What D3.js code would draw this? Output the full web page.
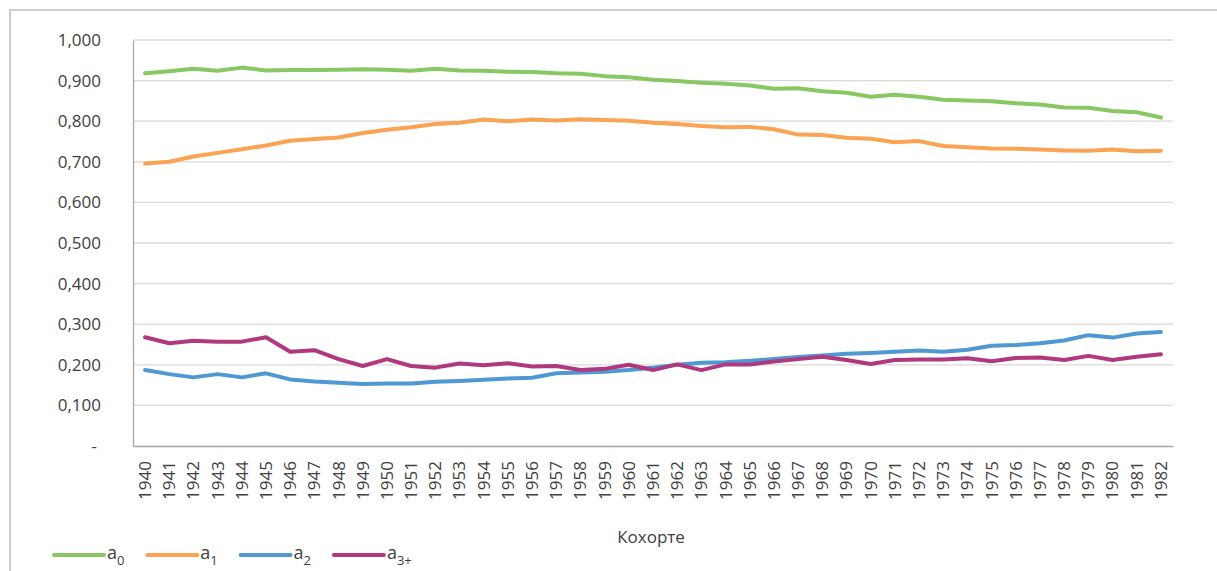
<!DOCTYPE html>
<html>
<head>
<meta charset="utf-8">
<script src="https://cdn.jsdelivr.net/npm/d3@7"></script>
<style>
  html, body { margin: 0; padding: 0; background: #fff; }
  svg text { font-family: "Open Sans", "Noto Sans", sans-serif; fill: #404040; }
</style>
</head>
<body>
<svg id="chart" width="1217" height="571"></svg>
<script>
// Cohort years on the category axis
const years = d3.range(1940, 1983).map(String);

// Share of women by parity, per birth cohort
const a0 = [0.918, 0.923, 0.929, 0.924, 0.932, 0.925, 0.926, 0.926, 0.927, 0.928,
            0.927, 0.924, 0.929, 0.925, 0.924, 0.922, 0.921, 0.918, 0.917, 0.911,
            0.908, 0.902, 0.899, 0.895, 0.892, 0.888, 0.880, 0.881, 0.874, 0.870,
            0.860, 0.865, 0.860, 0.853, 0.851, 0.849, 0.844, 0.841, 0.834, 0.833,
            0.825, 0.822, 0.809];
const a1 = [0.696, 0.700, 0.713, 0.722, 0.731, 0.740, 0.752, 0.756, 0.760, 0.771,
            0.779, 0.785, 0.793, 0.796, 0.804, 0.800, 0.804, 0.802, 0.805, 0.803,
            0.801, 0.796, 0.793, 0.788, 0.785, 0.786, 0.780, 0.767, 0.766, 0.759,
            0.757, 0.748, 0.751, 0.739, 0.736, 0.733, 0.732, 0.730, 0.728, 0.727,
            0.730, 0.726, 0.727];
const a2 = [0.187, 0.177, 0.169, 0.177, 0.169, 0.179, 0.164, 0.159, 0.156, 0.153,
            0.154, 0.154, 0.158, 0.160, 0.163, 0.166, 0.168, 0.179, 0.181, 0.183,
            0.187, 0.193, 0.200, 0.205, 0.206, 0.210, 0.214, 0.219, 0.223, 0.227,
            0.229, 0.232, 0.235, 0.232, 0.237, 0.247, 0.249, 0.253, 0.260, 0.273,
            0.267, 0.277, 0.281];
const a3 = [0.268, 0.253, 0.259, 0.257, 0.257, 0.268, 0.232, 0.236, 0.214, 0.197,
            0.214, 0.197, 0.193, 0.203, 0.199, 0.204, 0.196, 0.197, 0.187, 0.190,
            0.200, 0.187, 0.201, 0.187, 0.201, 0.201, 0.208, 0.214, 0.220, 0.212,
            0.202, 0.212, 0.213, 0.213, 0.216, 0.209, 0.217, 0.218, 0.212, 0.222,
            0.212, 0.220, 0.226];

const yTicks = [0, 0.1, 0.2, 0.3, 0.4, 0.5, 0.6, 0.7, 0.8, 0.9, 1.0];
const xTitle = "Кохорте";

const series = [
  { base: "a", sub: "0",  values: a0, color: "#88c763" },
  { base: "a", sub: "1",  values: a1, color: "#faa352" },
  { base: "a", sub: "2",  values: a2, color: "#4f98d2" },
  { base: "a", sub: "3+", values: a3, color: "#b0387e" }
];

const svg = d3.select("#chart");

// Outer chart frame (top and left edges)
svg.append("path")
  .attr("d", "M10,1000 V10 H1300")
  .attr("fill", "none")
  .attr("stroke", "#bfbfbf")
  .attr("stroke-width", 1.5);

const plot = { left: 133, right: 1173, top: 40, bottom: 446 };

const x = d3.scaleBand().domain(years).range([plot.left, plot.right]).padding(0);
const xc = d => x(d) + x.bandwidth() / 2;
const y = d3.scaleLinear().domain([0, 1]).range([plot.bottom, plot.top]);

// Horizontal gridlines
svg.append("g")
  .selectAll("line")
  .data(yTicks.filter(t => t > 0))
  .join("line")
  .attr("x1", plot.left).attr("x2", plot.right)
  .attr("y1", d => y(d)).attr("y2", d => y(d))
  .attr("stroke", "#d9d9d9")
  .attr("stroke-width", 1.3);

// Y axis labels
const fmt = v => v === 0 ? "-" : d3.format(".3f")(v).replace(".", ",");
const yAxis = svg.append("g")
  .attr("transform", `translate(${plot.left},0)`)
  .call(d3.axisLeft(y).tickValues(yTicks).tickFormat(fmt).tickSize(0).tickPadding(32));
yAxis.select(".domain").attr("stroke", "#a6a6a6").attr("stroke-width", 1.3);
yAxis.selectAll("text").style("font-size", "17px").attr("fill", "#404040")
  .attr("dx", d => d === 0 ? -4 : 0);

// X axis with rotated year labels
const xAxis = svg.append("g")
  .attr("transform", `translate(0,${plot.bottom})`)
  .call(d3.axisBottom(x).tickSize(0).tickPadding(0));
xAxis.select(".domain").attr("stroke", "#a6a6a6").attr("stroke-width", 1.5);
xAxis.selectAll("text")
  .style("font-size", "17px")
  .attr("fill", "#404040")
  .attr("text-anchor", "end")
  .attr("transform", "rotate(-90)")
  .attr("x", -15)
  .attr("y", 0)
  .attr("dy", "0.35em");

// Axis title
svg.append("text")
  .attr("x", (plot.left + plot.right) / 2 - 2)
  .attr("y", 543)
  .attr("text-anchor", "middle")
  .style("font-size", "17px")
  .text(xTitle);

// Series lines
const line = d3.line()
  .x((d, i) => xc(years[i]))
  .y(d => y(d));

svg.append("g")
  .selectAll("path")
  .data(series)
  .join("path")
  .attr("d", s => line(s.values))
  .attr("fill", "none")
  .attr("stroke", s => s.color)
  .attr("stroke-width", 4)
  .attr("stroke-linejoin", "round")
  .attr("stroke-linecap", "round");

// Legend
const legend = svg.append("g").attr("transform", "translate(54,555)");
const item = legend.selectAll("g")
  .data(series)
  .join("g")
  .attr("transform", (d, i) => `translate(${i * 93.3},0)`);
item.append("line")
  .attr("x1", 0).attr("x2", 50)
  .attr("stroke", d => d.color)
  .attr("stroke-width", 4)
  .attr("stroke-linecap", "round");
const lt = item.append("text")
  .attr("x", 53)
  .attr("y", 4)
  .style("font-size", "18px");
lt.append("tspan").text(d => d.base);
lt.append("tspan")
  .attr("dy", 6)
  .style("font-size", "13px")
  .text(d => d.sub);
</script>
</body>
</html>
